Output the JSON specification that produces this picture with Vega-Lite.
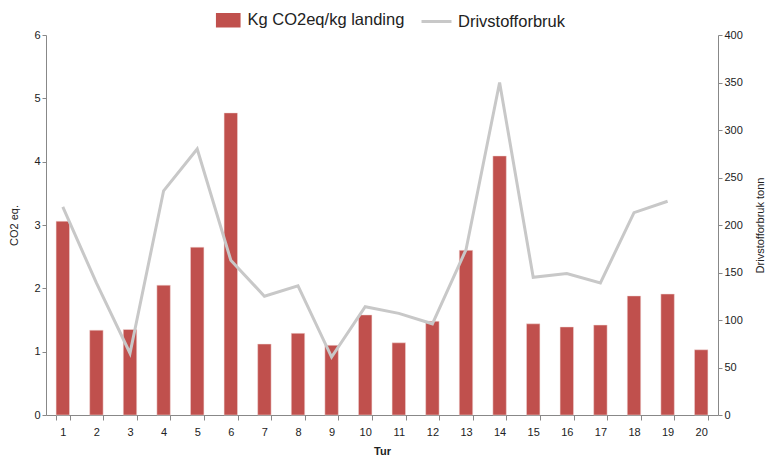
{
  "$schema": "https://vega.github.io/schema/vega-lite/v6.json",
  "autosize": "none",
  "width": 672,
  "height": 380,
  "padding": {"left": 46, "top": 35, "right": 56, "bottom": 44},
  "config": {
    "view": {"stroke": null},
    "font": "Liberation Sans",
    "axis": {"grid": false, "domainColor": "#888888", "tickColor": "#888888", "labelColor": "#222222", "titleColor": "#222222", "labelFontSize": 11, "titleFontSize": 11, "titleFontWeight": "normal", "tickSize": 4}
  },
  "data": {"values": [
    {"tur": 1, "co2": 3.06, "driv": 219},
    {"tur": 2, "co2": 1.34, "driv": 139},
    {"tur": 3, "co2": 1.35, "driv": 65},
    {"tur": 4, "co2": 2.05, "driv": 236},
    {"tur": 5, "co2": 2.65, "driv": 280},
    {"tur": 6, "co2": 4.77, "driv": 163},
    {"tur": 7, "co2": 1.12, "driv": 125},
    {"tur": 8, "co2": 1.29, "driv": 136},
    {"tur": 9, "co2": 1.1, "driv": 61},
    {"tur": 10, "co2": 1.58, "driv": 114},
    {"tur": 11, "co2": 1.14, "driv": 107},
    {"tur": 12, "co2": 1.48, "driv": 96},
    {"tur": 13, "co2": 2.6, "driv": 174},
    {"tur": 14, "co2": 4.09, "driv": 350},
    {"tur": 15, "co2": 1.44, "driv": 145},
    {"tur": 16, "co2": 1.39, "driv": 149},
    {"tur": 17, "co2": 1.42, "driv": 139},
    {"tur": 18, "co2": 1.88, "driv": 213},
    {"tur": 19, "co2": 1.91, "driv": 225},
    {"tur": 20, "co2": 1.03, "driv": null}
  ]},
  "encoding": {
    "x": {"field": "tur", "type": "ordinal", "title": "Tur",
      "scale": {"paddingInner": 0.6, "paddingOuter": 0.3},
      "axis": {"labelAngle": 0, "tickBand": "extent", "titleFontWeight": "bold", "labelPadding": 6, "titlePadding": 8, "tickSize": 5}}
  },
  "layer": [
    {
      "mark": {"type": "bar", "stroke": "#F2DCDB", "strokeWidth": 0.5},
      "encoding": {
        "y": {"field": "co2", "type": "quantitative", "title": "CO2 eq.",
          "scale": {"domain": [0, 6]},
          "axis": {"values": [0, 1, 2, 3, 4, 5, 6], "titlePadding": 14}},
        "color": {"datum": "Kg CO2eq/kg landing", "type": "nominal",
          "scale": {"range": ["#C0504D"]},
          "legend": {"orient": "none", "legendX": 174, "legendY": -23, "title": null, "labelFontSize": 16.5, "labelColor": "#222222", "symbolType": "M-1.7,-1H1.7V1H-1.7Z", "symbolSize": 210, "symbolStrokeWidth": 0, "labelOffset": 11}}
      }
    },
    {
      "mark": {"type": "line", "color": "#C8C8C8", "strokeWidth": 3},
      "encoding": {
        "y": {"field": "driv", "type": "quantitative", "title": "Drivstofforbruk tonn",
          "scale": {"domain": [0, 400]},
          "axis": {"orient": "right", "values": [0, 50, 100, 150, 200, 250, 300, 350, 400], "titlePadding": 12, "titleAngle": -90, "titleBaseline": "top"}},
        "color": {"datum": "Drivstofforbruk", "type": "nominal",
          "scale": {"range": ["#C8C8C8"]},
          "legend": {"orient": "none", "legendX": 374, "legendY": -30, "title": null, "labelFontSize": 16.5, "labelColor": "#222222", "symbolType": "stroke", "symbolStrokeWidth": 3, "symbolSize": 900, "labelOffset": 5}}
      }
    }
  ],
  "resolve": {"scale": {"y": "independent", "color": "independent"}, "legend": {"color": "independent"}}
}
